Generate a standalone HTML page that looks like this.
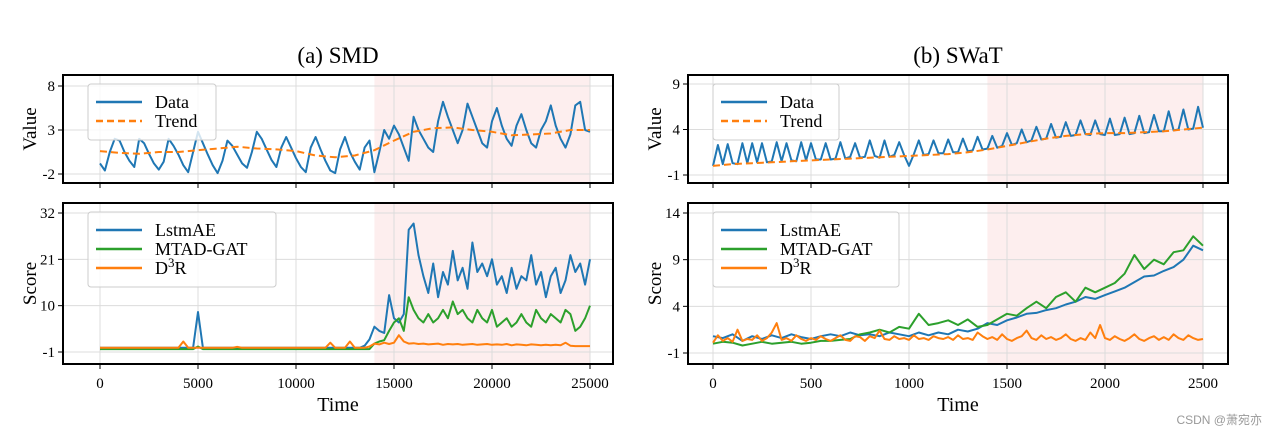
<!DOCTYPE html>
<html><head><meta charset="utf-8"><style>
body{margin:0;background:#fff}
svg{display:block;font-family:"Liberation Serif",serif}
</style></head><body>
<svg id="fig" width="1266" height="436" viewBox="0 0 1266 436">
<text x="338" y="63" font-size="23" text-anchor="middle">(a) SMD</text>
<text x="958" y="63" font-size="23" text-anchor="middle">(b) SWaT</text>
<text x="1262" y="424" font-size="12" fill="#999" text-anchor="end" font-family="Liberation Sans, Noto Sans CJK SC, sans-serif">CSDN @萧宛亦</text>
</svg>
<script>
// ---- data ----
const smdData=[-0.8,-1.6,0.5,2.0,1.8,0.5,-0.5,-1.2,2.0,1.5,0.3,-0.8,-1.5,-0.6,2.0,1.2,0.2,-1.0,-1.8,0.5,2.8,1.5,0.2,-1.0,-1.9,-0.5,1.8,1.2,0.2,-0.8,-1.3,0.5,2.8,2.0,0.8,-0.4,-1.2,1.0,2.2,1.0,-0.2,-1.2,-1.8,1.0,2.2,0.8,-0.5,-1.6,-1.9,0.8,2.2,0.5,-0.6,-1.5,1.0,1.8,-1.8,0.5,3.0,2.0,3.5,2.5,1.0,-0.5,4.5,3.0,2.0,1.0,0.5,4.0,6.2,4.5,3.0,1.5,3.0,6.0,4.5,3.0,1.5,1.0,4.0,5.5,3.5,2.0,1.2,3.5,4.8,3.0,1.5,1.0,3.0,4.0,5.8,3.5,2.0,1.0,2.5,5.8,6.2,3.0,2.8];
const smdTrend=[0.6,0.4,0.3,0.5,0.5,0.7,0.9,1.1,0.9,0.8,0.6,0.1,-0.1,0.1,0.7,1.8,2.8,3.2,3.3,3.0,2.8,2.4,2.5,2.6,3.0,3.0];
const smdLstm=[0,0,0,0,0,0,0,0,0,0,0,0,0,0,0,0,0,0,0,0,8.5,0,0,0,0,0,0,0,0,0,0,0,0,0,0,0,0,0,0,0,0,0,0,0,0,0,0,0,0,0,0,0,0,0,0.5,2,5,4,3.5,12.5,7,6,8,28,29.5,22,17,13,20,12,18,15,23,16,19,14,25,18,20,17,21,15,17,13,19,14,17,16,22,15,18,12,17,19,13,16,22,18,20,15,21];
const smdMtad=[-0.3,-0.3,-0.3,-0.3,-0.3,-0.3,-0.3,-0.3,-0.3,-0.3,-0.3,-0.3,-0.3,-0.3,-0.3,-0.3,-0.3,-0.3,-0.3,-0.3,0.3,-0.3,-0.3,-0.3,-0.3,-0.3,-0.3,-0.3,-0.3,-0.3,-0.3,-0.3,-0.3,-0.3,-0.3,-0.3,-0.3,-0.3,-0.3,-0.3,-0.3,-0.3,-0.3,-0.3,-0.3,-0.3,-0.3,-0.3,-0.3,-0.3,-0.3,-0.3,-0.3,-0.3,-0.3,-0.3,1,1.5,1.8,4,6,7,4,12,9,7,6,8,6,7,9,7,11,8,9,7,6,9,7,6,9,5,6,7,5,6,8,6,5,9,7,6,8,7,6,9,8,4,5,7,10];
const smdD3r=[0,0,0,0,0,0,0,0,0,0,0,0,0,0,0,0,0,1.5,0,0,0,0,0,0,0,0,0,0,0.2,0,0,0,0,0,0,0,0,0,0,0,0,0,0,0,0,0,0,1.2,0,0,0,1.5,0,0,0,0.3,1,0.8,1.2,0.9,1.2,3,1.5,1,1.1,0.9,1,0.8,0.9,1,0.7,0.9,0.8,0.9,0.7,0.8,0.9,0.7,0.8,0.9,0.7,0.8,0.7,0.9,0.6,0.8,0.7,0.6,0.8,0.7,0.6,0.7,0.6,0.7,0.6,1.2,0.5,0.4,0.4,0.4,0.4];
const swatData=[0.0,2.3,0.2,2.4,0.3,0.2,2.5,0.3,2.5,0.4,2.5,0.4,0.5,2.6,0.5,2.5,0.6,0.5,2.6,0.6,2.5,0.7,0.7,2.5,0.7,0.8,2.6,0.8,1.0,2.5,0.9,1.0,2.8,1.1,0.9,2.8,1.0,1.2,2.6,1.2,0.0,1.3,2.8,1.2,1.3,2.8,1.4,1.4,2.9,1.5,1.5,3.0,1.6,1.7,3.2,1.8,1.9,3.3,2.0,2.2,3.6,2.3,2.5,4.0,2.6,2.8,4.3,2.9,3.0,4.6,3.1,3.2,4.8,3.3,3.4,5.0,3.5,3.4,5.0,3.5,3.4,5.2,3.4,3.5,5.3,3.5,3.6,5.5,3.6,3.7,5.6,3.8,3.8,6.0,3.9,4.0,6.2,4.0,4.1,6.5,4.2];
const swatTrend=[0.0,0.2,0.3,0.4,0.5,0.6,0.7,0.8,0.9,1.0,1.1,1.2,1.3,1.5,1.8,2.2,2.6,3.0,3.3,3.5,3.6,3.6,3.7,3.8,4.0,4.2];
const swatLstm=[0.8,0.6,1.0,0.3,0.8,0.5,0.9,0.6,1.0,0.7,0.5,0.8,1.0,0.8,1.2,0.9,1.0,0.8,1.2,1.0,0.8,1.2,0.9,1.2,1.0,1.5,1.3,1.6,2.2,2.0,2.5,2.8,3.2,3.3,3.6,3.8,4.2,4.5,5.0,4.8,5.2,5.6,6.0,6.6,7.2,7.3,7.8,8.2,9.0,10.5,10.0];
const swatMtad=[0.0,0.2,0.1,-0.2,0.0,0.2,0.0,0.1,0.2,0.0,0.1,0.3,0.3,0.4,0.5,1.0,1.2,1.5,1.2,1.8,1.6,3.2,2.0,2.2,2.5,2.0,2.6,1.8,2.0,2.6,3.2,3.0,3.8,4.5,3.8,5.0,5.5,4.5,6.0,5.5,6.0,6.5,7.5,9.5,8.0,9.0,8.5,9.8,10.0,11.5,10.5];
const swatD3r=[0.1,0.9,0.3,0.6,0.2,1.5,0.3,0.5,0.4,0.9,0.3,0.6,1.2,2.2,0.4,0.6,0.3,0.9,0.5,0.3,0.6,0.4,0.8,0.5,0.3,0.6,0.9,0.4,0.3,0.8,0.7,0.3,0.8,0.6,1.4,0.5,0.4,0.8,0.5,0.6,0.4,0.9,0.5,0.6,0.4,0.8,0.6,0.5,0.7,0.4,0.9,0.5,0.6,0.4,1.2,0.8,0.5,0.7,0.4,1.0,0.5,0.3,0.6,0.8,1.4,0.6,0.4,0.9,0.5,0.7,0.4,0.6,1.0,0.5,0.3,0.6,0.4,1.2,0.6,2.0,0.6,0.4,0.8,0.5,0.3,0.6,1.0,0.5,0.3,0.6,0.8,0.4,0.7,0.4,1.0,0.6,0.4,0.9,0.6,0.4,0.5];
const smdXTicks=[0,5000,10000,15000,20000,25000];
const swatXTicks=[0,500,1000,1500,2000,2500];
const smdTopTicks=[-2,3,8], smdBotTicks=[-1,10,21,32];
const swatTopTicks=[-1,4,9], swatBotTicks=[-1,4,9,14];
const smdShade=[14000,25000], swatShade=[1400,2500];

const NS='http://www.w3.org/2000/svg';
const svg=document.getElementById('fig');
function mk(tag,attrs,parent){const e=document.createElementNS(NS,tag);for(const k in attrs)e.setAttribute(k,attrs[k]);(parent||svg).appendChild(e);return e;}
const C={blue:'#1f77b4',orange:'#ff7f0e',green:'#2ca02c'};

function panel(o){
  const g=mk('g',{});
  
  
  const X=t=>o.px0+(t-o.xd[0])/(o.xd[1]-o.xd[0])*(o.px1-o.px0);
  const Y=v=>o.py0+(v-o.yd[0])/(o.yd[1]-o.yd[0])*(o.py1-o.py0);
  const sh=mk('rect',{x:X(o.shade[0]),y:o.top,width:X(o.shade[1])-X(o.shade[0]),height:o.bot-o.top,fill:'#fdeeee'},g);
  
  
  o.xt.forEach(t=>mk('line',{x1:X(t),x2:X(t),y1:o.top,y2:o.bot,stroke:'#dcdcdc','stroke-width':1},g));
  o.yt.forEach(v=>{
    mk('line',{x1:o.L,x2:o.R,y1:Y(v),y2:Y(v),stroke:'#dcdcdc','stroke-width':1},g);
    mk('line',{x1:o.L-5,x2:o.L,y1:Y(v),y2:Y(v),stroke:'#000','stroke-width':1},g);
    const t=mk('text',{x:o.L-8,y:Y(v)+5,'font-size':15,'text-anchor':'end'},g);t.textContent=v;
    
    
  });
  o.xt.forEach(t=>{
    mk('line',{x1:X(t),x2:X(t),y1:o.bot,y2:o.bot+5,stroke:'#000','stroke-width':1},g);
    if(o.xlabels){const tx=mk('text',{x:X(t),y:o.bot+24,'font-size':15,'text-anchor':'middle'},g);tx.textContent=t;
      
      }
  });
  o.series.forEach(s=>{
    const n=s.v.length;
    const pts=s.v.map((v,i)=>X(o.xd[0]+i*(o.xd[1]-o.xd[0])/(n-1)).toFixed(1)+','+Y(v).toFixed(1)).join(' ');
    const p=mk('polyline',{points:pts,fill:'none',stroke:s.c,'stroke-width':2,'stroke-dasharray':s.dash||'none','stroke-linejoin':'round'},g);
    
    
  });
  mk('rect',{x:o.L,y:o.top,width:o.R-o.L,height:o.bot-o.top,fill:'none',stroke:'#000','stroke-width':2},g);
  const yl=mk('text',{x:0,y:0,'font-size':19,'text-anchor':'middle',transform:`translate(${o.L-27},${(o.top+o.bot)/2}) rotate(-90)`},g);yl.textContent=o.ylabel;
  
  
  if(o.xlabels){const xl=mk('text',{x:(o.L+o.R)/2,y:o.bot+47,'font-size':20,'text-anchor':'middle'},g);xl.textContent='Time';
    
    }
  // legend
  const lg=mk('g',{},g);
  
  
  const lx=o.L+25, n=o.series.length, lw=o.legW, lh=n*19+18;
  mk('rect',{x:o.L+25,y:o.top+9,width:lw,height:lh,rx:3,fill:'rgba(255,255,255,0.8)',stroke:'#cccccc','stroke-width':1},lg);
  o.series.forEach((s,i)=>{
    const yy=o.top+27+i*19;
    mk('line',{x1:lx+8,x2:lx+54,y1:yy,y2:yy,stroke:s.c,'stroke-width':2.5,'stroke-dasharray':s.dash||'none'},lg);
    const t=mk('text',{x:lx+67,y:yy+6,'font-size':18},lg);
    if(s.label==='D3R'){t.innerHTML='D<tspan dy="-7" font-size="13">3</tspan><tspan dy="7">R</tspan>';}
    else t.textContent=s.label;
    
    
  });
}
const L1=63,R1=613,L2=688,R2=1228;
panel({name:'smd-value-panel',L:L1,R:R1,top:75,bot:183,px0:100,px1:590,xd:[0,25000],py0:174,py1:86,yd:[-2,8],xt:smdXTicks,yt:smdTopTicks,shade:smdShade,ylabel:'Value',legW:128,
  series:[{v:smdData,c:C.blue,label:'Data'},{v:smdTrend,c:C.orange,dash:'7,4',label:'Trend'}]});
panel({name:'smd-score-panel',L:L1,R:R1,top:203,bot:364,px0:100,px1:590,xd:[0,25000],py0:352,py1:213,yd:[-1,32],xt:smdXTicks,yt:smdBotTicks,shade:smdShade,ylabel:'Score',legW:188,xlabels:true,
  series:[{v:smdLstm,c:C.blue,label:'LstmAE'},{v:smdMtad,c:C.green,label:'MTAD-GAT'},{v:smdD3r,c:C.orange,label:'D3R'}]});
panel({name:'swat-value-panel',L:L2,R:R2,top:75,bot:183,px0:713,px1:1203,xd:[0,2500],py0:175,py1:84,yd:[-1,9],xt:swatXTicks,yt:swatTopTicks,shade:swatShade,ylabel:'Value',legW:126,
  series:[{v:swatData,c:C.blue,label:'Data'},{v:swatTrend,c:C.orange,dash:'7,4',label:'Trend'}]});
panel({name:'swat-score-panel',L:L2,R:R2,top:203,bot:364,px0:713,px1:1203,xd:[0,2500],py0:353,py1:213,yd:[-1,14],xt:swatXTicks,yt:swatBotTicks,shade:swatShade,ylabel:'Score',legW:186,xlabels:true,
  series:[{v:swatLstm,c:C.blue,label:'LstmAE'},{v:swatMtad,c:C.green,label:'MTAD-GAT'},{v:swatD3r,c:C.orange,label:'D3R'}]});
</script>
</body></html>
